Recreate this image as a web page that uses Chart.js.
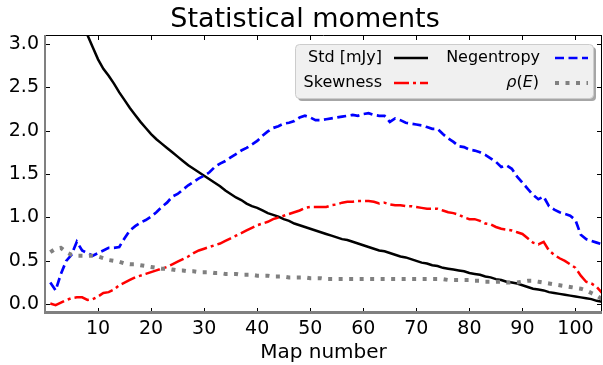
<!DOCTYPE html>
<html>
<head>
<meta charset="utf-8">
<script src="https://cdn.jsdelivr.net/npm/chart.js@4.4.1/dist/chart.umd.min.js"></script>
<style>
  html, body { margin: 0; padding: 0; background: #fff; }
  #wrap { width: 603px; height: 365px; }
</style>
</head>
<body>
<div id="wrap"><canvas id="moments" width="603" height="365"></canvas></div>
<script>
// map index along the x axis
const mapNumber = Array.from({ length: 105 }, (_, i) => i + 1);

const stdMJy = [
  5.20, 4.60, 4.20, 3.90, 3.65, 3.45, 3.27, 3.10, 2.96, 2.82,
  2.71, 2.63, 2.54, 2.44, 2.35, 2.26, 2.18, 2.10, 2.03, 1.96,
  1.90, 1.85, 1.80, 1.75, 1.70, 1.65, 1.60, 1.56, 1.52, 1.48,
  1.44, 1.40, 1.36, 1.31, 1.27, 1.23, 1.20, 1.16, 1.13, 1.11,
  1.08, 1.05, 1.03, 1.01, 0.98, 0.96, 0.93, 0.91, 0.89, 0.87,
  0.85, 0.83, 0.81, 0.79, 0.77, 0.75, 0.74, 0.72, 0.70, 0.68,
  0.66, 0.64, 0.62, 0.61, 0.59, 0.57, 0.55, 0.54, 0.52, 0.50,
  0.48, 0.47, 0.45, 0.44, 0.42, 0.41, 0.40, 0.39, 0.38, 0.36,
  0.35, 0.34, 0.32, 0.31, 0.29, 0.28, 0.26, 0.25, 0.24, 0.22,
  0.20, 0.18, 0.17, 0.16, 0.14, 0.13, 0.12, 0.11, 0.10, 0.09,
  0.08, 0.07, 0.06, 0.04, 0.03
];

const skewness = [
  0.01, -0.01, 0.02, 0.05, 0.07, 0.08, 0.08, 0.05, 0.06, 0.09,
  0.13, 0.14, 0.17, 0.22, 0.25, 0.28, 0.31, 0.33, 0.35, 0.37,
  0.39, 0.41, 0.43, 0.46, 0.49, 0.52, 0.55, 0.59, 0.62, 0.64,
  0.66, 0.68, 0.70, 0.73, 0.76, 0.79, 0.82, 0.85, 0.88, 0.91,
  0.93, 0.95, 0.98, 1.00, 1.02, 1.04, 1.06, 1.08, 1.11, 1.12,
  1.12, 1.12, 1.12, 1.14, 1.15, 1.17, 1.18, 1.18, 1.19, 1.19,
  1.19, 1.18, 1.16, 1.17, 1.15, 1.14, 1.14, 1.13, 1.13, 1.12,
  1.11, 1.10, 1.10, 1.10, 1.08, 1.06, 1.05, 1.03, 1.00, 0.98,
  0.98, 0.96, 0.93, 0.92, 0.89, 0.87, 0.86, 0.85, 0.83, 0.81,
  0.76, 0.71, 0.69, 0.72, 0.62, 0.57, 0.53, 0.50, 0.46, 0.42,
  0.33, 0.26, 0.24, 0.20, 0.13
];

const negentropy = [
  0.25, 0.16, 0.35, 0.50, 0.57, 0.72, 0.62, 0.59, 0.56, 0.59,
  0.62, 0.65, 0.65, 0.66, 0.76, 0.85, 0.90, 0.94, 0.97, 1.01,
  1.06, 1.12, 1.17, 1.24, 1.27, 1.32, 1.37, 1.41, 1.45, 1.48,
  1.52, 1.58, 1.62, 1.65, 1.69, 1.73, 1.77, 1.80, 1.84, 1.88,
  1.94, 1.99, 2.03, 2.05, 2.08, 2.09, 2.11, 2.15, 2.17, 2.15,
  2.12, 2.12, 2.13, 2.14, 2.15, 2.16, 2.17, 2.18, 2.17, 2.19,
  2.20, 2.18, 2.17, 2.17, 2.10, 2.14, 2.12, 2.09, 2.08, 2.07,
  2.06, 2.04, 2.02, 2.02, 1.96, 1.91, 1.87, 1.82, 1.81, 1.78,
  1.77, 1.75, 1.72, 1.68, 1.64, 1.58, 1.60, 1.56, 1.47, 1.40,
  1.33, 1.26, 1.21, 1.24, 1.13, 1.09, 1.06, 1.04, 1.02, 0.97,
  0.80, 0.75, 0.73, 0.71, 0.69
];

const rhoE = [
  0.60, 0.64, 0.65, 0.60, 0.57, 0.56, 0.56, 0.56, 0.56, 0.55,
  0.53, 0.51, 0.50, 0.49, 0.47, 0.46, 0.46, 0.45, 0.44, 0.43,
  0.42, 0.41, 0.41, 0.40, 0.39, 0.39, 0.38, 0.38, 0.37, 0.37,
  0.37, 0.36, 0.36, 0.35, 0.35, 0.35, 0.34, 0.34, 0.34, 0.33,
  0.33, 0.33, 0.32, 0.32, 0.32, 0.31, 0.31, 0.31, 0.31, 0.30,
  0.30, 0.30, 0.29, 0.29, 0.29, 0.29, 0.29, 0.29, 0.29, 0.29,
  0.29, 0.29, 0.29, 0.29, 0.29, 0.29, 0.29, 0.29, 0.29, 0.29,
  0.29, 0.29, 0.29, 0.29, 0.29, 0.28, 0.28, 0.28, 0.28, 0.28,
  0.27, 0.27, 0.26, 0.26, 0.26, 0.26, 0.25, 0.25, 0.25, 0.26,
  0.27, 0.27, 0.26, 0.25, 0.24, 0.23, 0.22, 0.21, 0.20, 0.19,
  0.18, 0.16, 0.13, 0.10, 0.06
];

const xTicks = [10, 20, 30, 40, 50, 60, 70, 80, 90, 100];
const yTicks = [0, 0.5, 1.0, 1.5, 2.0, 2.5, 3.0];

const FONT = 'DejaVu Sans';

const points = arr => mapNumber.map((x, i) => ({ x, y: arr[i] }));

// line styles, shared by the plotted curves and the legend handles
const styles = {
  std:  { color: '#000000', width: 2.5, dash: [] },
  skew: { color: '#ff0000', width: 2.5, dash: [15, 4, 3, 4] },
  neg:  { color: '#0000ff', width: 2.7, dash: [9, 4.5] },
  rho:  { color: '#808080', width: 4,   dash: [4, 6.5] }
};

function lineDataset(label, arr, st, order) {
  return {
    label,
    data: points(arr),
    borderColor: st.color,
    borderWidth: st.width,
    borderDash: st.dash,
    borderCapStyle: 'butt',
    pointRadius: 0,
    tension: 0,
    fill: false,
    order
  };
}

// title, spines, inward ticks and the framed legend
const decorations = {
  id: 'decorations',
  afterDatasetsDraw(chart) {
    const { ctx, chartArea: a, scales } = chart;
    ctx.save();

    // ticks pointing into the axes, on all four sides
    ctx.strokeStyle = '#000';
    ctx.lineWidth = 1;
    ctx.beginPath();
    xTicks.forEach(v => {
      const px = Math.round(scales.x.getPixelForValue(v)) + 0.5;
      ctx.moveTo(px, a.bottom); ctx.lineTo(px, a.bottom - 5);
      ctx.moveTo(px, a.top);    ctx.lineTo(px, a.top + 5);
    });
    yTicks.forEach(v => {
      const py = Math.round(scales.y.getPixelForValue(v)) + 0.5;
      ctx.moveTo(a.left, py);  ctx.lineTo(a.left + 5, py);
      ctx.moveTo(a.right, py); ctx.lineTo(a.right - 5, py);
    });
    ctx.stroke();

    // frame: thin black top/right, heavier grey left/bottom
    ctx.strokeStyle = '#000';
    ctx.lineWidth = 1;
    ctx.beginPath();
    ctx.moveTo(a.left, a.top + 0.5); ctx.lineTo(a.right, a.top + 0.5);
    ctx.moveTo(a.right - 0.5, a.top); ctx.lineTo(a.right - 0.5, a.bottom);
    ctx.stroke();
    ctx.strokeStyle = '#808080';
    ctx.lineWidth = 2;
    ctx.beginPath();
    ctx.moveTo(a.left, a.top); ctx.lineTo(a.left, a.bottom);
    ctx.stroke();
    ctx.lineWidth = 3;
    ctx.beginPath();
    ctx.moveTo(a.left - 1, a.bottom - 0.5); ctx.lineTo(a.right, a.bottom - 0.5);
    ctx.stroke();

    // legend box with drop shadow
    const bx = 295, by = 44, bw = 298, bh = 54;
    ctx.fillStyle = '#a6a6a6';
    ctx.beginPath(); ctx.roundRect(bx + 3, by + 3, bw, bh, 4); ctx.fill();
    ctx.fillStyle = '#f0f0f0';
    ctx.strokeStyle = '#cccccc';
    ctx.lineWidth = 1;
    ctx.beginPath(); ctx.roundRect(bx + 0.5, by + 0.5, bw, bh, 4); ctx.fill(); ctx.stroke();

    const handle = (st, x0, x1, y) => {
      ctx.save();
      ctx.strokeStyle = st.color;
      ctx.lineWidth = st.width;
      ctx.setLineDash(st.dash);
      ctx.lineCap = 'butt';
      ctx.beginPath(); ctx.moveTo(x0, y); ctx.lineTo(x1, y); ctx.stroke();
      ctx.restore();
    };

    ctx.fillStyle = '#000';
    ctx.textBaseline = 'middle';
    ctx.textAlign = 'right';
    ctx.font = `16px ${FONT}`;
    const r1 = 58, r2 = 83;
    ctx.fillText('Std [mJy]', 382, r1);
    ctx.fillText('Skewness', 382, r2);
    ctx.fillText('Negentropy', 540, r1);
    handle(styles.std, 394, 428, r1);
    handle(styles.skew, 394, 428, r2);
    handle(styles.neg, 555, 588, r1);
    handle(styles.rho, 555, 588, r2);

    // ρ(E) with italic symbols
    ctx.textAlign = 'left';
    const parts = [['ρ', true], ['(', false], ['E', true], [')', false]];
    const fontFor = it => (it ? `italic 16px ${FONT}` : `16px ${FONT}`);
    let total = 0;
    parts.forEach(([t, it]) => { ctx.font = fontFor(it); total += ctx.measureText(t).width; });
    let px = 539 - total;
    parts.forEach(([t, it]) => {
      ctx.font = fontFor(it);
      ctx.fillText(t, px, r2);
      px += ctx.measureText(t).width;
    });

    // title
    ctx.textAlign = 'center';
    ctx.textBaseline = 'alphabetic';
    ctx.font = `27px ${FONT}`;
    ctx.fillText('Statistical moments', 305, 27);

    ctx.restore();
  }
};

new Chart(document.getElementById('moments'), {
  type: 'line',
  data: {
    datasets: [
      lineDataset('Std [mJy]', stdMJy, styles.std, 4),
      lineDataset('Skewness', skewness, styles.skew, 3),
      lineDataset('Negentropy', negentropy, styles.neg, 2),
      lineDataset('ρ(E)', rhoE, styles.rho, 1)
    ]
  },
  options: {
    responsive: false,
    animation: false,
    layout: { padding: { top: 35, right: 1, left: 0, bottom: 0 } },
    plugins: {
      legend: { display: false },
      title: { display: false },
      tooltip: { enabled: false }
    },
    scales: {
      x: {
        type: 'linear',
        min: 0,
        max: 105,
        grid: { display: false, drawTicks: false },
        border: { display: false },
        afterBuildTicks: s => { s.ticks = xTicks.map(value => ({ value })); },
        afterFit: s => { s.height = 52; },
        ticks: {
          color: '#000',
          font: { family: FONT, size: 19 },
          padding: 5,
          maxRotation: 0,
          autoSkip: false,
          callback: v => String(v)
        },
        title: {
          display: true,
          text: 'Map number',
          color: '#000',
          font: { family: FONT, size: 20, lineHeight: 1.2 },
          padding: { top: 0, bottom: 0 }
        }
      },
      y: {
        min: -0.1,
        max: 3.1,
        grid: { display: false, drawTicks: false },
        border: { display: false },
        afterBuildTicks: s => { s.ticks = yTicks.map(value => ({ value })); },
        afterFit: s => { s.width = 45; },
        ticks: {
          color: '#000',
          font: { family: FONT, size: 19 },
          padding: 6,
          autoSkip: false,
          callback: v => v.toFixed(1)
        }
      }
    }
  },
  plugins: [decorations]
});
</script>
</body>
</html>
